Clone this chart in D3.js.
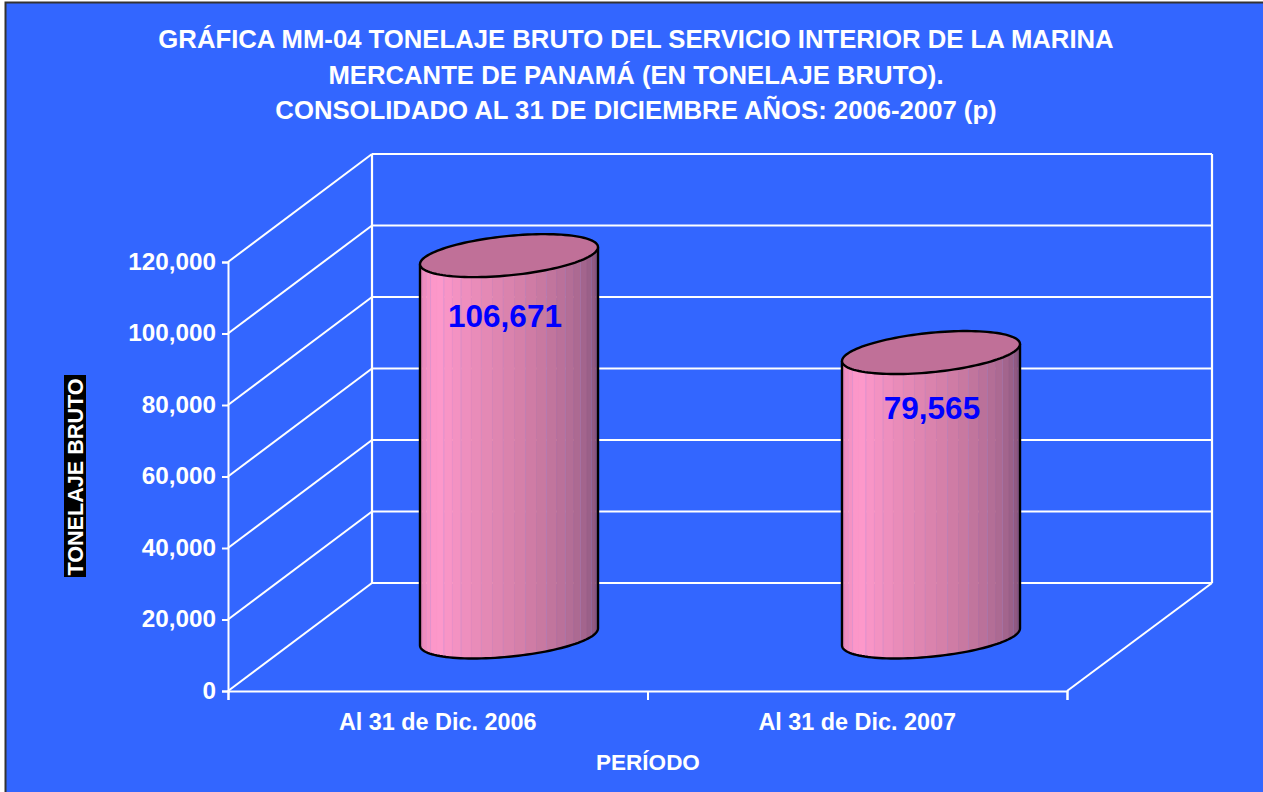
<!DOCTYPE html>
<html><head><meta charset="utf-8">
<script src="https://cdnjs.cloudflare.com/ajax/libs/d3/7.8.5/d3.min.js"></script>
<style>html,body{margin:0;padding:0;background:#fff}svg{display:block}text{font-family:"Liberation Sans",Arial,sans-serif;font-weight:bold}</style>
</head><body><svg id="c" width="1263" height="792"></svg>
<script>
const titleLines=["GRÁFICA MM-04 TONELAJE BRUTO DEL SERVICIO INTERIOR DE LA MARINA","MERCANTE DE PANAMÁ (EN TONELAJE BRUTO).","CONSOLIDADO AL 31 DE DICIEMBRE AÑOS: 2006-2007 (p)"];
const categories=["Al 31 de Dic. 2006","Al 31 de Dic. 2007"];
const values=[106671,79565];
const valueLabels=["106,671","79,565"];
const yTicks=[0,20000,40000,60000,80000,100000,120000];
const yTitle="TONELAJE BRUTO";
const xTitle="PERÍODO";

const svg=d3.select("#c");
const white="#fff";
const dx=144,dy=-108;
const y=d3.scaleLinear().domain([0,120000]).range([691,262]);
const x=d3.scaleBand().domain(categories).range([228,1067]);
const barX=d3.scalePoint().domain(categories).range([509,931]);

svg.append("rect").attr("x",5.5).attr("y",2.5).attr("width",1262).attr("height",794).attr("fill","#3366ff").attr("stroke","#333").attr("stroke-width",2);

// walls
const walls=svg.append("g").attr("fill","none").attr("stroke",white);
yTicks.forEach(t=>{
  walls.append("line").attr("x1",228).attr("x2",228+dx).attr("y1",y(t)).attr("y2",y(t)+dy).attr("stroke-width",2);
  walls.append("line").attr("x1",228+dx).attr("x2",1068+dx).attr("y1",y(t)+dy).attr("y2",y(t)+dy).attr("stroke-width",2.2);
});
walls.append("line").attr("x1",228+dx).attr("x2",228+dx).attr("y1",y(0)+dy).attr("y2",y(120000)+dy).attr("stroke-width",2.2);
walls.append("line").attr("x1",1068+dx).attr("x2",1068+dx).attr("y1",y(0)+dy).attr("y2",y(120000)+dy).attr("stroke-width",2.2);
walls.append("line").attr("x1",1067).attr("x2",1068+dx).attr("y1",y(0)).attr("y2",y(0)+dy).attr("stroke-width",2);

// axes
const axL=d3.axisLeft(y).tickValues(yTicks).tickFormat(d3.format(",")).tickSize(6).tickPadding(6);
const gy=svg.append("g").attr("transform","translate(228,0)").call(axL);
const axB=d3.axisBottom(d3.scaleLinear().domain([0,2]).range([228,1067])).tickValues([0,1,2]).tickFormat("").tickSize(9);
const gx=svg.append("g").attr("transform","translate(0,691)").call(axB);
[gy,gx].forEach(g=>{g.selectAll("path").attr("stroke",white).attr("stroke-width",2);g.selectAll("line").attr("stroke",white).attr("stroke-width",2);});
gy.selectAll("text").attr("fill",white).style("font-size","24.3px").style("font-family",'"Liberation Sans"').style("font-weight","bold").attr("dy","0.3em");

// cylinders
const rx=89,tilt=8.5,ry=19.75,baseOff=-54;
const N=25;
const shade=d3.scaleLinear().domain([0,.06,.2,.55,.8,1]).range(["#d87fae","#e888b8","#ff99cc","#d47fa8","#a86890","#7a4c74"]);
values.forEach((v,i)=>{
  const cx=barX(categories[i]);
  const yB=y(0)+baseOff, yT=y(v)+baseOff;
  const pt=(a,c)=>[cx-rx*Math.cos(a), c+tilt*Math.cos(a)+ry*Math.sin(a)];
  const g=svg.append("g");
  const angles=d3.range(N+1).map(k=>k*Math.PI/N);
  // facets
  d3.range(N).forEach(k=>{
    const a0=angles[k],a1=angles[k+1];
    const p=[pt(a0,yT),pt(a1,yT),pt(a1,yB),pt(a0,yB)];
    g.append("path").attr("d","M"+p.join("L")+"Z").attr("fill",shade((k+.5)/N)).attr("stroke",shade((k+.5)/N)).attr("stroke-width",.6);
    if(k%2===1 && k>1){
      const px=pt(a1,0)[0];
      g.append("line").attr("x1",px).attr("x2",px).attr("y1",pt(a1,yT)[1]).attr("y2",pt(a1,yB)[1]).attr("stroke","#a08fe0").attr("stroke-opacity",.7).attr("stroke-width",1);
    }
  });
  // outline
  const front=d3.range(0,61).map(k=>pt(k*Math.PI/60,yB));
  g.append("path").attr("d","M"+pt(0,yT)+"L"+front.join("L")+"L"+pt(Math.PI,yT)).attr("fill","none").attr("stroke","#000").attr("stroke-width",2.4);
  const top=d3.range(0,120).map(k=>pt(k*Math.PI/60,yT));
  g.append("path").attr("d","M"+top.join("L")+"Z").attr("fill","#c07098").attr("stroke","#000").attr("stroke-width",2.4);
  svg.append("text").attr("x",cx-4+(i?5:0)).attr("y",yT+(i?66:71)).attr("text-anchor","middle").attr("fill","#0000ff").style("font-size","31.5px").text(valueLabels[i]);
});

// titles
titleLines.forEach((t,i)=>svg.append("text").attr("x",636).attr("y",48+i*35.5).attr("text-anchor","middle").attr("fill",white).style("font-size","25.7px").text(t));
categories.forEach(c=>svg.append("text").attr("x",x(c)+x.bandwidth()/2).attr("y",730).attr("text-anchor","middle").attr("fill",white).style("font-size","23.4px").text(c));
svg.append("text").attr("x",648).attr("y",770).attr("text-anchor","middle").attr("fill",white).style("font-size","22.5px").text(xTitle);
svg.append("rect").attr("x",64).attr("y",375).attr("width",22).attr("height",202).attr("fill","#000");
svg.append("text").attr("transform","translate(83,477) rotate(-90)").attr("text-anchor","middle").attr("fill",white).style("font-size","21.6px").text(yTitle);
</script></body></html>
